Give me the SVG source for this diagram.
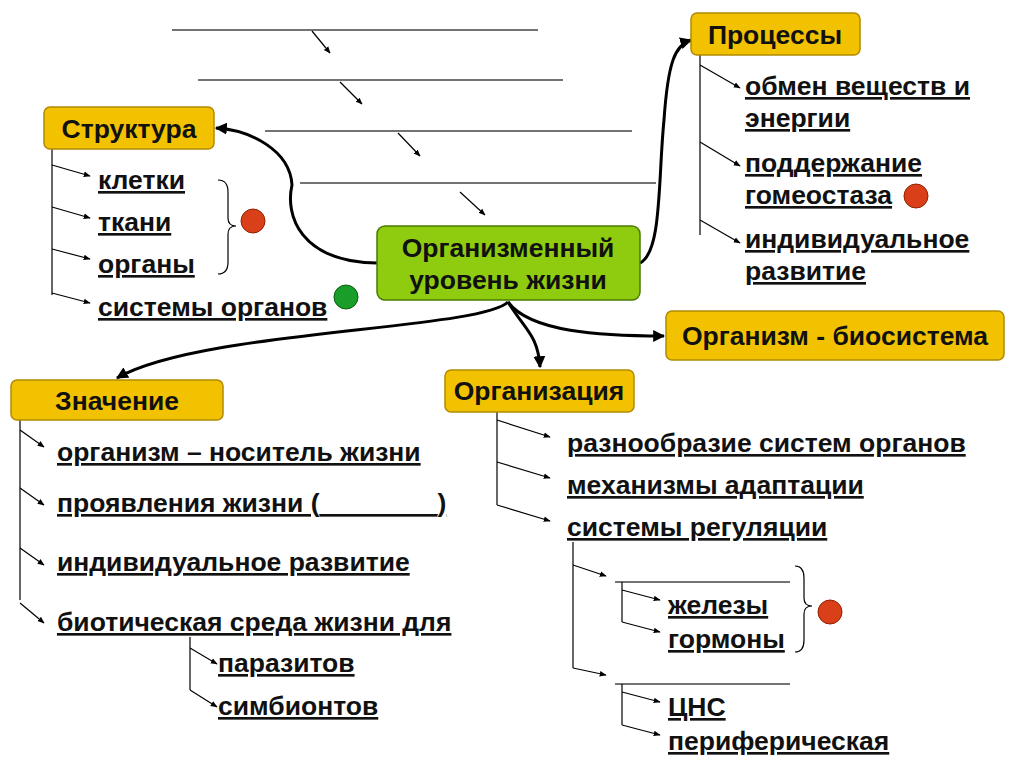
<svg xmlns="http://www.w3.org/2000/svg" width="1018" height="768" viewBox="0 0 1018 768">
<defs>
<marker id="a" viewBox="0 0 10 10" refX="9" refY="5" markerWidth="7" markerHeight="7" orient="auto" markerUnits="userSpaceOnUse"><path d="M0,1 L10,5 L0,9 Z" fill="#000"/></marker>
<marker id="b" viewBox="0 0 10 10" refX="9" refY="5" markerWidth="12" markerHeight="12" orient="auto" markerUnits="userSpaceOnUse"><path d="M0,0 L10,5 L0,10 Z" fill="#000"/></marker>
</defs>
<style>
.t{font-family:"Liberation Sans",Arial,sans-serif;font-weight:bold;font-size:26.5px;fill:#111;text-decoration:underline}
.h{font-family:"Liberation Sans",Arial,sans-serif;font-weight:bold;font-size:26.5px;fill:#111;text-anchor:middle}
.y{fill:#f2c200;stroke:#b08a00;stroke-width:1.5}
.g{fill:#8fcc10;stroke:#4a7a00;stroke-width:1.5}
.l{stroke:#000;stroke-width:1.2;fill:none}
.k{stroke:#000;stroke-width:1.2;fill:none;marker-end:url(#a)}
.c{stroke:#000;stroke-width:3;fill:none;marker-end:url(#b)}
.bl{stroke:#444;stroke-width:1.3}
</style>
<rect width="1018" height="768" fill="#fff"/>
<g id="blanks">
<line class="bl" x1="172" y1="30" x2="538" y2="30"/>
<line class="bl" x1="198" y1="80" x2="563" y2="80"/>
<line class="bl" x1="265" y1="131" x2="632" y2="131"/>
<line class="bl" x1="300" y1="183" x2="656" y2="183"/>
<line class="k" x1="312" y1="31" x2="330" y2="53"/>
<line class="k" x1="340" y1="82" x2="362" y2="104"/>
<line class="k" x1="398" y1="133" x2="420" y2="156"/>
<line class="k" x1="460" y1="192" x2="485" y2="215"/>
<line class="bl" x1="615" y1="582" x2="790" y2="582"/>
<line class="bl" x1="615" y1="684" x2="790" y2="684"/>
</g>
<g id="connectors">
<path class="c" d="M377,263 C300,262 285,215 292,185 C290,150 250,130 216,128"/>
<path class="c" d="M640,263 C662,252 658,180 664,120 C668,62 675,45 691,40"/>
<path class="c" d="M508,302 C480,330 200,330 117,378"/>
<path class="c" d="M508,302 C525,330 538,335 540,367"/>
<path class="c" d="M508,302 C530,332 600,336 664,336"/>
<path class="l" d="M52,149 V295"/>
<path class="k" d="M52,165 L90,176"/><path class="k" d="M52,207 L90,218"/><path class="k" d="M52,249 L90,259"/><path class="k" d="M52,293 L90,303"/>
<path class="l" d="M700,55 V235"/>
<path class="k" d="M700,65 L740,88"/><path class="k" d="M700,142 L740,166"/><path class="k" d="M700,220 L740,243"/>
<path class="l" d="M20,420 V600"/>
<path class="k" d="M20,430 L44,447"/><path class="k" d="M20,488 L44,505"/><path class="k" d="M20,548 L44,565"/><path class="k" d="M20,603 L44,623"/>
<path class="l" d="M190,637 V690"/>
<path class="k" d="M190,648 L217,664"/><path class="k" d="M190,690 L217,707"/>
<path class="l" d="M497,412 V505"/>
<path class="k" d="M497,420 L550,437"/><path class="k" d="M497,462 L550,478"/><path class="k" d="M497,505 L550,521"/>
<path class="l" d="M573,542 V668"/>
<path class="k" d="M573,565 L606,576"/><path class="k" d="M573,668 L606,675"/>
<path class="l" d="M622,582 V622"/>
<path class="k" d="M622,590 L660,600"/><path class="k" d="M622,622 L660,632"/>
<path class="l" d="M622,684 V725"/>
<path class="k" d="M622,692 L660,702"/><path class="k" d="M622,725 L660,735"/>
<path class="l" d="M218,180 Q228,180 228,192 V218 Q228,226 236,226 Q228,226 228,234 V262 Q228,274 218,274"/>
<path class="l" d="M795,566 Q804,566 804,578 V598 Q804,606 812,606 Q804,606 804,614 V640 Q804,652 795,652"/>
</g>
<g id="structure"><rect class="y" x="44" y="107" width="170" height="42" rx="6"/><text class="h" x="129" y="138">Структура</text></g>
<g id="structure-items">
<text class="t" x="98" y="189">клетки</text><text class="t" x="98" y="231">ткани</text><text class="t" x="98" y="273">органы</text><text class="t" x="98" y="316">системы органов</text>
<circle cx="253" cy="221" r="12" fill="#d9401a" stroke="#902000"/><circle cx="346" cy="297" r="12" fill="#1a9e2a" stroke="#0a5a10"/>
</g>
<g id="processes"><rect class="y" x="691" y="13" width="169" height="42" rx="6"/><text class="h" x="775" y="44">Процессы</text></g>
<g id="process-items">
<text class="t" x="745" y="95">обмен веществ и</text><text class="t" x="745" y="127">энергии</text>
<text class="t" x="745" y="172">поддержание</text><text class="t" x="745" y="204">гомеостаза</text>
<text class="t" x="745" y="248">индивидуальное</text><text class="t" x="745" y="280">развитие</text>
<circle cx="916" cy="196" r="12" fill="#d9401a" stroke="#902000"/>
</g>
<g id="center"><rect class="g" x="377" y="226" width="263" height="74" rx="8"/><text class="h" x="508" y="257">Организменный</text><text class="h" x="508" y="289">уровень жизни</text></g>
<g id="biosystem"><rect class="y" x="666" y="311" width="338" height="49" rx="6"/><text class="h" x="835" y="345">Организм - биосистема</text></g>
<g id="meaning"><rect class="y" x="11" y="380" width="212" height="40" rx="6"/><text class="h" x="117" y="410">Значение</text></g>
<g id="meaning-items">
<text class="t" x="57" y="461">организм – носитель жизни</text>
<text class="t" x="57" y="512">проявления жизни (<tspan>________</tspan>)</text>
<text class="t" x="57" y="571">индивидуальное развитие</text>
<text class="t" x="57" y="631">биотическая среда жизни для</text>
<text class="t" x="218" y="672">паразитов</text><text class="t" x="218" y="715">симбионтов</text>
</g>
<g id="organization"><rect class="y" x="445" y="370" width="189" height="42" rx="6"/><text class="h" x="539" y="400">Организация</text></g>
<g id="organization-items">
<text class="t" x="567" y="452">разнообразие систем органов</text>
<text class="t" x="567" y="494">механизмы адаптации</text>
<text class="t" x="567" y="536">системы регуляции</text>
<text class="t" x="668" y="614">железы</text><text class="t" x="668" y="648">гормоны</text>
<text class="t" x="668" y="716">ЦНС</text><text class="t" x="668" y="750">периферическая</text>
<circle cx="830" cy="612" r="12" fill="#d9401a" stroke="#902000"/>
</g>
</svg>
